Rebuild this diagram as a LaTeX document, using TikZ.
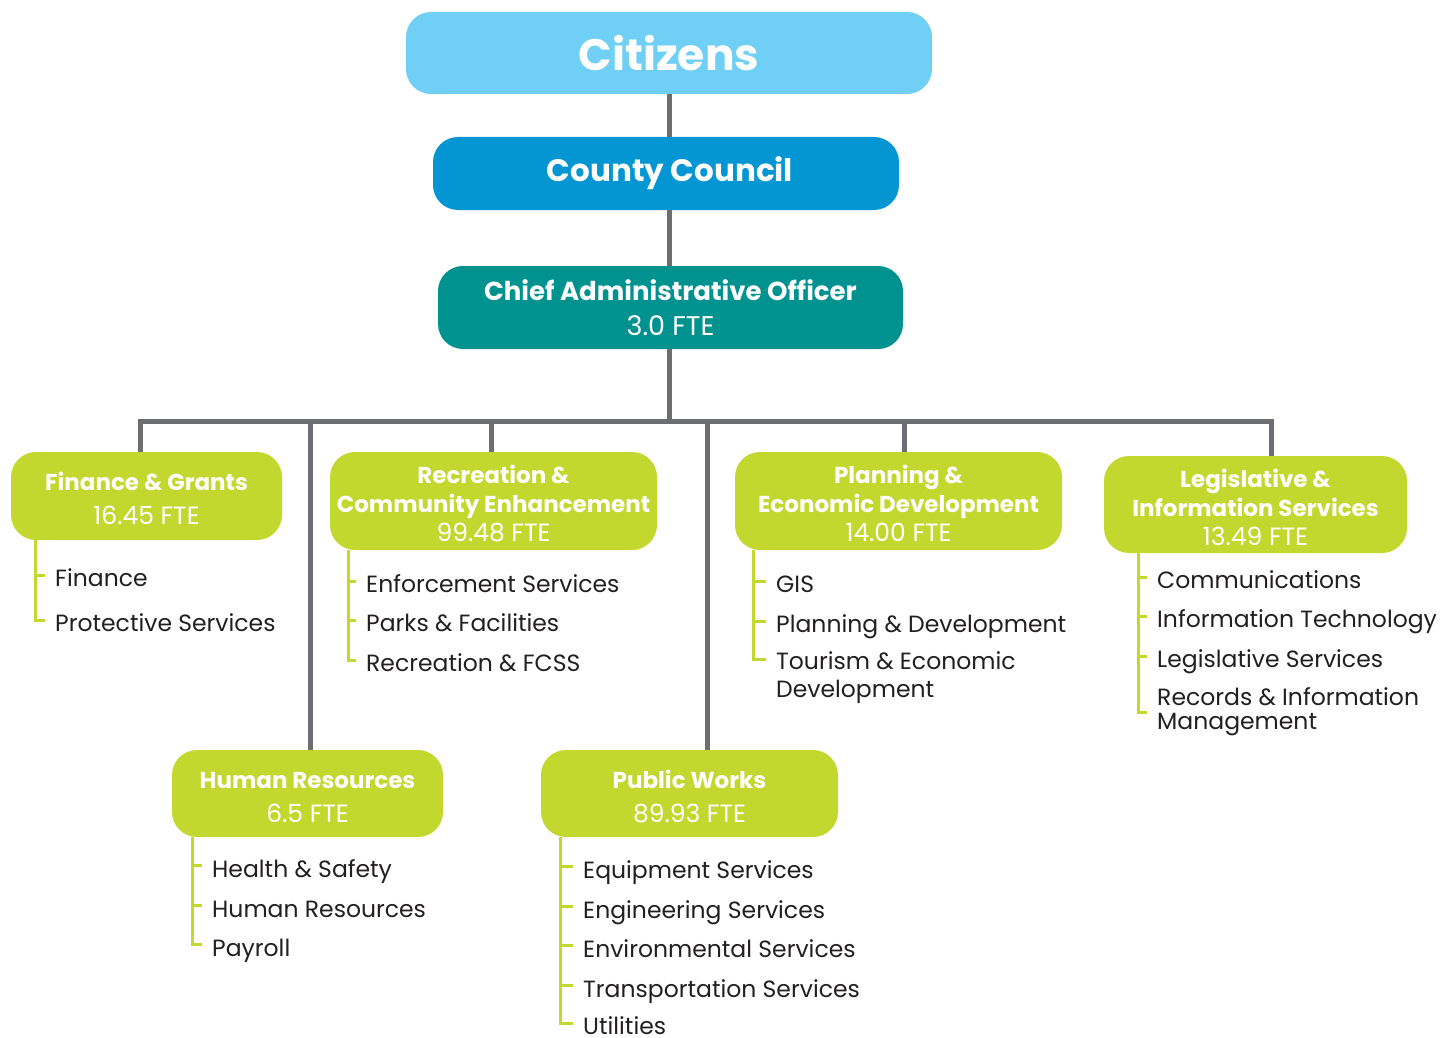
\documentclass[tikz,border=0pt]{standalone}
\usepackage{fontspec}
\setmainfont{Poppins}
\usepackage{tikz}

\definecolor{skyblue}{HTML}{6FCFF4}
\definecolor{councilblue}{HTML}{0396D3}
\definecolor{caoteal}{HTML}{00928F}
\definecolor{deptgreen}{HTML}{C3D82F}
\definecolor{linegray}{HTML}{6D6E71}
\definecolor{itemtext}{HTML}{231F20}

% first title line of a box (the rule pushes the text block down a bit)
\newcommand{\head}[1]{\rule{0pt}{24pt}\textbf{#1}}
% staff count line under a box title
\newcommand{\fte}[1]{{\fontsize{25}{29}\selectfont #1 FTE}}

\tikzset{
  box/.style={rounded corners=25pt, text=white, align=center, inner sep=0pt},
  dept/.style={box, fill=deptgreen, font=\fontsize{23}{29}\selectfont},
  link/.style={draw=linegray, line width=5pt},
  sub/.style={draw=deptgreen, line width=3pt},
  item/.style={anchor=west, inner xsep=10pt, inner ysep=0pt, text height=24pt,
    text depth=1pt, text=itemtext, align=left, font=\fontsize{23.5}{28}\selectfont},
  twoline/.style={text height={}, text depth={}},
}

\begin{document}
\begin{tikzpicture}[x=1pt,y=-1pt]
  \useasboundingbox (0,0) rectangle (1454,1038);

  % Top of the chart
  \node[box, fill=skyblue, minimum width=526pt, minimum height=82pt,
    font=\bfseries\fontsize{44}{50}\selectfont] (cit) at (669,53) {Citizens};
  \node[box, fill=councilblue, minimum width=466pt, minimum height=73pt,
    font=\bfseries\fontsize{31}{36}\selectfont] (cc) at (666,173.5)
    {\hspace*{8pt}County Council};
  \node[box, fill=caoteal, minimum width=465pt, minimum height=83pt,
    font=\fontsize{26}{35}\selectfont] (cao) at (670.5,307.5)
    {\textbf{Chief Administrative Officer}\\{\fontsize{27}{35}\selectfont 3.0 FTE}};

  % Departments
  \node[dept, minimum width=271pt, minimum height=88pt] (fin) at (146.5,496)
    {\head{Finance \& Grants}\\[5pt]\fte{16.45}};
  \node[dept, minimum width=327pt, minimum height=98pt] (rec) at (493.5,501)
    {\head{Recreation \&}\\\textbf{Community Enhancement}\\\fte{99.48}};
  \node[dept, minimum width=327pt, minimum height=98pt] (ped) at (898.5,501)
    {\head{Planning \&}\\\textbf{Economic Development}\\\fte{14.00}};
  \node[dept, minimum width=303pt, minimum height=97pt] (leg) at (1255.5,504.5)
    {\head{Legislative \&}\\\textbf{Information Services}\\\fte{13.49}};
  \node[dept, minimum width=271pt, minimum height=87pt] (hr) at (307.5,793.5)
    {\head{Human Resources}\\[5pt]\fte{6.5}};
  \node[dept, minimum width=297pt, minimum height=87pt] (pw) at (689.5,793.5)
    {\head{Public Works}\\[5pt]\fte{89.93}};

  % Gray reporting lines
  \coordinate (barl) at (140,421);
  \coordinate (barr) at (1271,421);
  \coordinate (jhr) at (310,421);
  \coordinate (jrec) at (491,421);
  \coordinate (jpw) at (707,421);
  \coordinate (jped) at (904,421);
  \draw[link] (cit.south) -- (cit.south |- cc.north);
  \draw[link] (cc.south -| cit.south) -- (cit.south |- cao.north);
  \draw[link] (cao.south -| cit.south) -- (cit.south |- barl);
  \draw[link] (fin.north -| barl) -- (barl) -- (barr) -- (barr |- leg.north);
  \draw[link] (jhr) -- (jhr |- hr.north);
  \draw[link] (jrec) -- (jrec |- rec.north);
  \draw[link] (jpw) -- (jpw |- pw.north);
  \draw[link] (jped) -- (jped |- ped.north);

  % Finance & Grants
  \coordinate (finl) at (35,540);
  \node[item] (fin1) at (45,575) {Finance};
  \node[item] (fin2) at (45,620) {Protective Services};
  \draw[sub] (finl) |- (fin2.west);
  \draw[sub] (finl |- fin1.west) -- (fin1.west);

  % Recreation & Community Enhancement
  \coordinate (recl) at (348,550);
  \node[item] (rec1) at (356,581) {Enforcement Services};
  \node[item] (rec2) at (356,620) {Parks \& Facilities};
  \node[item] (rec3) at (356,660) {Recreation \& FCSS};
  \draw[sub] (recl) |- (rec3.west);
  \foreach \i in {1,2}
    \draw[sub] (recl |- rec\i.west) -- (rec\i.west);

  % Planning & Economic Development
  \coordinate (pedl) at (753,550);
  \node[item] (ped1) at (766,581) {GIS};
  \node[item] (ped2) at (766,621) {Planning \& Development};
  \node[item, twoline, anchor=north west] (ped3) at (766,651)
    {Tourism \& Economic\\Development};
  \draw[sub] (pedl) |- ([yshift=-8pt]ped3.north west);
  \foreach \i in {1,2}
    \draw[sub] (pedl |- ped\i.west) -- (ped\i.west);

  % Legislative & Information Services
  \coordinate (legl) at (1138,553);
  \node[item] (leg1) at (1147,577) {Communications};
  \node[item] (leg2) at (1147,616) {Information Technology};
  \node[item] (leg3) at (1147,656) {Legislative Services};
  \node[item, twoline, font=\fontsize{23.5}{24}\selectfont] (leg4) at (1147,712)
    {Records \& Information\\Management};
  \draw[sub] (legl) |- (leg4.west);
  \foreach \i in {1,2,3}
    \draw[sub] (legl |- leg\i.west) -- (leg\i.west);

  % Human Resources
  \coordinate (hrl) at (192,837);
  \node[item] (hr1) at (202,865.5) {Health \& Safety};
  \node[item] (hr2) at (202,905.5) {Human Resources};
  \node[item] (hr3) at (202,944.5) {Payroll};
  \draw[sub] (hrl) |- (hr3.west);
  \foreach \i in {1,2}
    \draw[sub] (hrl |- hr\i.west) -- (hr\i.west);

  % Public Works
  \coordinate (pwl) at (560,837);
  \node[item] (pw1) at (573,866.5) {Equipment Services};
  \node[item] (pw2) at (573,906.5) {Engineering Services};
  \node[item] (pw3) at (573,945.5) {Environmental Services};
  \node[item] (pw4) at (573,985.5) {Transportation Services};
  \node[item] (pw5) at (573,1023) {Utilities};
  \draw[sub] (pwl) |- (pw5.west);
  \foreach \i in {1,...,4}
    \draw[sub] (pwl |- pw\i.west) -- (pw\i.west);
\end{tikzpicture}
\end{document}
